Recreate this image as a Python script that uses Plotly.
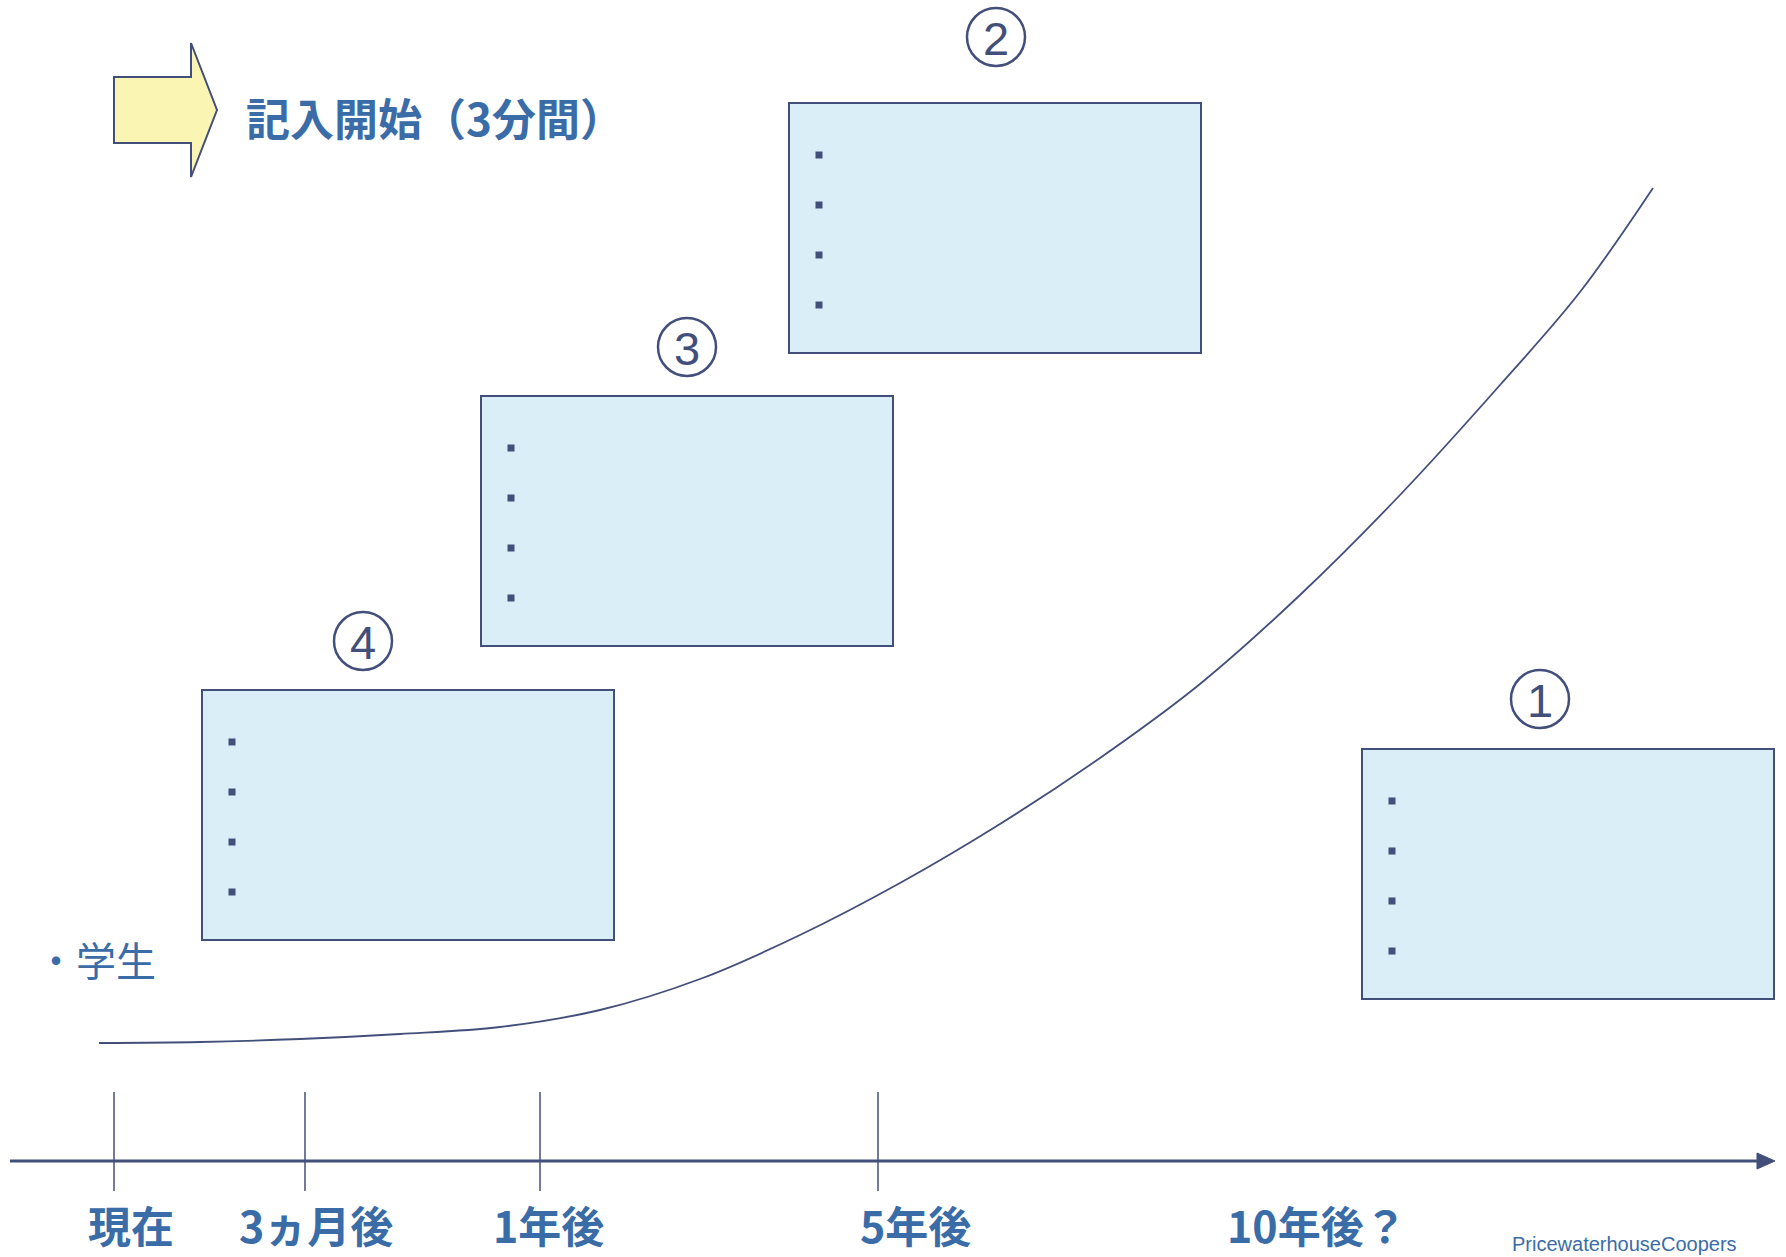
import plotly.graph_objects as go

# ---------------- data ----------------
timeline_labels = ["現在", "3ヵ月後", "1年後", "5年後", "10年後？"]
timeline_label_x = [131, 316, 548, 915, 1317]
tick_x = [114, 305, 540, 878]
curve_x = [99, 200, 300, 400, 500, 600, 700, 800, 900, 1000, 1100, 1200, 1300, 1400, 1500, 1580, 1653]
curve_y = [1043, 1042, 1039, 1034, 1027, 1010, 979, 935, 883, 824, 758, 684, 595, 495, 385, 292, 188]
box_numbers = ["1", "2", "3", "4"]
bullets_per_box = 4
title_text = "記入開始（3分間）"
side_label = "・学生"
credit_text = "PricewaterhouseCoopers"

# ---------------- layout / styles ----------------
W, H = 1786, 1257
NAVY = "#434F7B"
BLUE = "#3A6CA8"
BOX_FILL = "#D9EEF6"
ARROW_FILL = "#FAF5B3"
CJK = "Noto Sans CJK JP"

box_origin = {"1": (1362, 749), "2": (789, 103), "3": (481, 396), "4": (202, 690)}
circle_center = {"1": (1540, 699), "2": (996, 37), "3": (687, 347), "4": (363, 641)}
box_w, box_h = 412, 250
circle_r = 29
bullet_dx = 30
bullet_dy0, bullet_step = 52, 50

axis_y = 1161
axis_x0, axis_x1 = 10, 1760
tick_y0, tick_y1 = 1092, 1191

fig = go.Figure()
shapes = []
annotations = []

# start arrow (block arrow)
shapes.append(dict(
    type="path",
    path="M114,77 L191,77 L191,43 L217,110 L191,177 L191,143 L114,143 Z",
    xref="x", yref="y", fillcolor=ARROW_FILL, line=dict(color=NAVY, width=2),
))
annotations.append(dict(
    x=244, y=117, xref="x", yref="y", xanchor="left", yanchor="middle",
    text=title_text, showarrow=False,
    font=dict(family=CJK, size=44, color=BLUE, weight=700),
))

# boxes + circled numbers
bx, by = [], []
for n in box_numbers:
    x0, y0 = box_origin[n]
    shapes.append(dict(type="rect", xref="x", yref="y", x0=x0, y0=y0,
                       x1=x0 + box_w, y1=y0 + box_h, fillcolor=BOX_FILL,
                       line=dict(color=NAVY, width=2), layer="below"))
    cx, cy = circle_center[n]
    shapes.append(dict(type="circle", xref="x", yref="y", x0=cx - circle_r,
                       y0=cy - circle_r, x1=cx + circle_r, y1=cy + circle_r,
                       line=dict(color=NAVY, width=2.5)))
    annotations.append(dict(x=cx, y=cy + 1, xref="x", yref="y", text=n,
                            showarrow=False, xanchor="center", yanchor="middle",
                            font=dict(family="Liberation Sans", size=47, color=NAVY)))
    for k in range(bullets_per_box):
        bx.append(x0 + bullet_dx)
        by.append(y0 + bullet_dy0 + k * bullet_step)

fig.add_trace(go.Scatter(x=bx, y=by, mode="markers",
                         marker=dict(symbol="square", size=7, color=NAVY),
                         hoverinfo="skip", showlegend=False))

# growth curve
fig.add_trace(go.Scatter(x=curve_x, y=curve_y, mode="lines",
                         line=dict(color=NAVY, width=1.8, shape="spline", smoothing=1.0),
                         hoverinfo="skip", showlegend=False))

# time axis
shapes.append(dict(type="line", xref="x", yref="y", x0=axis_x0, y0=axis_y,
                   x1=axis_x1, y1=axis_y, line=dict(color=NAVY, width=3)))
shapes.append(dict(type="path", xref="x", yref="y",
                   path=f"M1757,{axis_y-8} L1775,{axis_y} L1757,{axis_y+8} Z",
                   fillcolor=NAVY, line=dict(color=NAVY, width=1)))
tx, ty = [], []
for t in tick_x:
    tx += [t, t, None]
    ty += [tick_y0, tick_y1, None]
fig.add_trace(go.Scatter(x=tx, y=ty, mode="lines", line=dict(color=NAVY, width=1.5),
                         hoverinfo="skip", showlegend=False))

for lab, lx in zip(timeline_labels, timeline_label_x):
    annotations.append(dict(x=lx, y=1257, xref="x", yref="y", text=lab,
                            showarrow=False, xanchor="center", yanchor="bottom",
                            font=dict(family=CJK, size=43, color=BLUE, weight=700)))

annotations.append(dict(x=34, y=959, xref="x", yref="y", text=side_label,
                        showarrow=False, xanchor="left", yanchor="middle",
                        font=dict(family=CJK, size=40, color=BLUE)))
annotations.append(dict(x=1510, y=1257, xref="x", yref="y", text=credit_text,
                        showarrow=False, xanchor="left", yanchor="bottom",
                        font=dict(family="Liberation Sans", size=20, color=BLUE)))

fig.update_layout(
    width=W, height=H, margin=dict(l=0, r=0, t=0, b=0),
    paper_bgcolor="white", plot_bgcolor="white",
    shapes=shapes, annotations=annotations, showlegend=False,
    xaxis=dict(range=[0, W], visible=False, fixedrange=True),
    yaxis=dict(range=[H, 0], visible=False, fixedrange=True),
)
fig.write_html("out.html", config={"displayModeBar": False})
